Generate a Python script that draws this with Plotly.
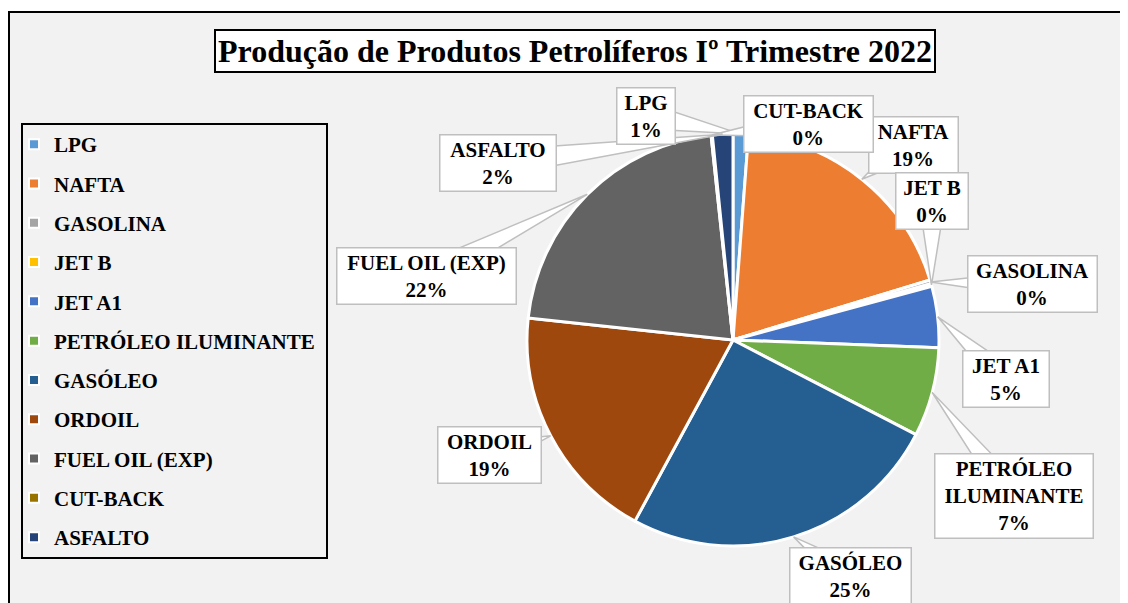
import math
import plotly.graph_objects as go

W, H = 1128, 603
OFF = 8  # the page body adds an 8px margin; axis ranges compensate for it

labels = ["LPG", "NAFTA", "GASOLINA", "JET B", "JET A1", "PETRÓLEO ILUMINANTE",
          "GASÓLEO", "ORDOIL", "FUEL OIL (EXP)", "CUT-BACK", "ASFALTO"]
shares = [1.2, 19.1, 0.3, 0.2, 4.8, 7.0, 25.3, 18.8, 21.6, 0.1, 1.6]
colors = ["#5B9BD5", "#ED7D31", "#A5A5A5", "#FFC000", "#4472C4", "#70AD47",
          "#255E91", "#9E480E", "#636363", "#997300", "#264478"]
box_text = ["LPG", "NAFTA", "GASOLINA", "JET B", "JET A1", "PETRÓLEO<br>ILUMINANTE",
            "GASÓLEO", "ORDOIL", "FUEL OIL (EXP)", "CUT-BACK", "ASFALTO"]
# callout boxes: centre and width in screen pixels
box_x = [646, 913, 1032, 932, 1006, 1014, 850, 489, 426, 808, 498]
box_y = [116, 145, 284, 201, 379, 496, 576, 455, 276, 124, 163]
box_w = [60, 91, 131, 74, 88, 160, 123, 105, 181, 131, 118]

FONT = "Liberation Serif"
cx, cy, r = 733, 340, 206

fig = go.Figure()

fig.add_trace(go.Pie(
    labels=labels, values=shares, sort=False, direction="clockwise", rotation=0,
    marker=dict(colors=colors, line=dict(color="white", width=3)),
    textinfo="none", showlegend=False,
    domain=dict(x=[(cx - r - OFF) / W, (cx + r - OFF) / W],
                y=[1 - (cy + r - OFF) / H, 1 - (cy - r - OFF) / H]),
))

# legend entries as dummy traces so the spacing can be opened up
for lab, col in zip(labels, colors):
    fig.add_trace(go.Scatter(
        x=[None], y=[None], mode="markers", name=f"<b>{lab}</b>", legendgroup=lab,
        marker=dict(symbol="square", size=10, color=col, line=dict(color="white", width=2)),
    ))

shapes = [
    dict(type="rect", x0=9, y0=12, x1=W + 20, y1=H + 20, xref="x", yref="y",
         line=dict(color="black", width=2), fillcolor="#F2F2F2", layer="below"),
    dict(type="rect", x0=22, y0=124, x1=327, y1=558, xref="x", yref="y",
         line=dict(color="black", width=2), fillcolor="rgba(0,0,0,0)", layer="below"),
]
annotations = [dict(
    x=574.5, y=50.5, xref="x", yref="y", showarrow=False,
    text="<b>Produção de Produtos Petrolíferos Iº Trimestre 2022</b>",
    font=dict(family=FONT, size=32, color="black"),
    bgcolor="white", bordercolor="black", borderwidth=2, borderpad=2,
)]

total = sum(shares)
cum = 0
for i, v in enumerate(shares):
    ang = math.radians((cum + v / 2) / total * 360)
    cum += v
    tx = cx + r * math.sin(ang)
    ty = cy - r * math.cos(ang)
    bx, by = box_x[i], box_y[i]
    dx, dy = tx - bx, ty - by
    d = math.hypot(dx, dy)
    px, py = -dy / d * 13, dx / d * 13
    shapes.append(dict(
        type="path", xref="x", yref="y", layer="above",
        path=f"M {tx:.1f},{ty:.1f} L {bx + px:.1f},{by + py:.1f} L {bx - px:.1f},{by - py:.1f} Z",
        fillcolor="white", line=dict(color="#BFBFBF", width=1.5),
    ))
    pct = round(v / total * 100)
    annotations.append(dict(
        x=bx, y=by, xref="x", yref="y", showarrow=False,
        text=f"<b>{box_text[i]}<br>{pct}%</b>", width=box_w[i] - 7,
        font=dict(family=FONT, size=21, color="black"),
        bgcolor="white", bordercolor="#BFBFBF", borderwidth=1.5, borderpad=2,
    ))

fig.update_layout(
    width=W, height=H, margin=dict(l=0, r=0, t=0, b=0),
    paper_bgcolor="white", plot_bgcolor="rgba(0,0,0,0)",
    xaxis=dict(range=[OFF, W + OFF], visible=False, fixedrange=True),
    yaxis=dict(range=[H + OFF, OFF], visible=False, fixedrange=True),
    shapes=shapes, annotations=annotations,
    legend=dict(x=(14 - OFF) / W, y=1 - (124 - OFF) / H, xanchor="left", yanchor="top",
                bgcolor="rgba(0,0,0,0)", borderwidth=0, tracegroupgap=9,
                itemwidth=30, font=dict(family=FONT, size=21, color="black")),
    font=dict(family=FONT),
)

fig.write_html("out.html")
